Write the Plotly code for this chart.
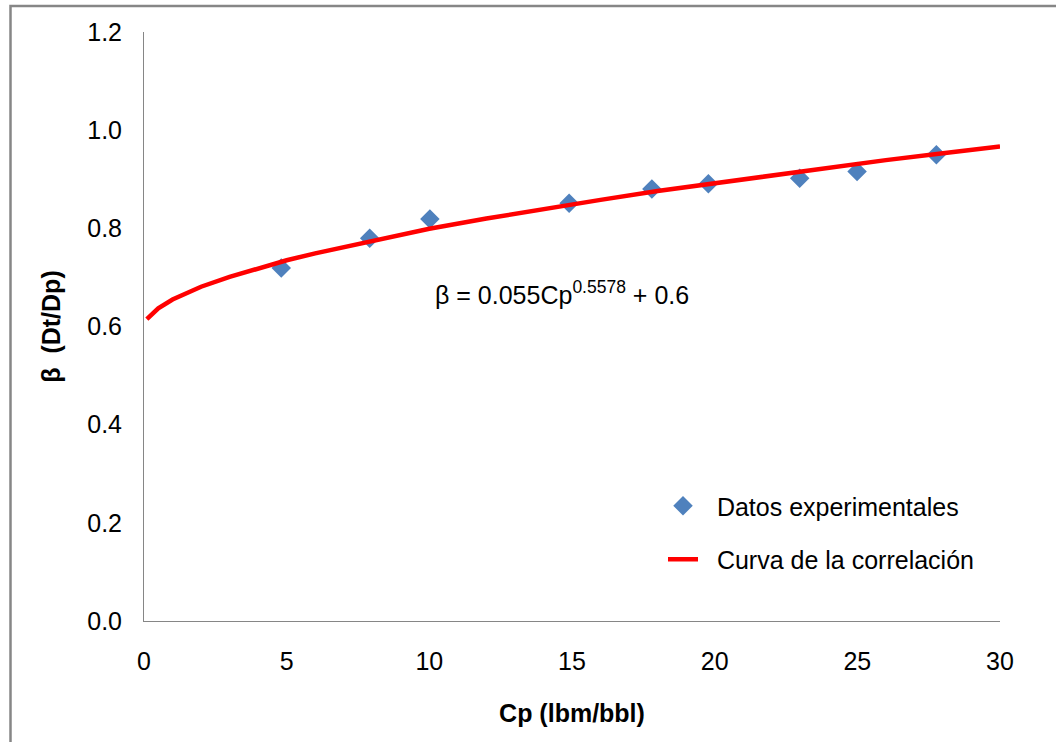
import plotly.graph_objects as go

# ---- data ----
cp_exp = [4.81, 7.91, 10.02, 14.9, 17.8, 19.78, 22.98, 24.99, 27.77]
beta_exp = [0.719, 0.780, 0.819, 0.851, 0.880, 0.891, 0.902, 0.916, 0.950]

cp_curve = [0.1, 0.5, 1, 2, 3, 4, 5, 6, 8, 10, 12, 14, 16, 18, 20, 22, 24, 26, 28, 30]
beta_curve = [0.615, 0.637, 0.655, 0.681, 0.701, 0.719, 0.735, 0.749, 0.775, 0.799,
              0.820, 0.840, 0.858, 0.876, 0.892, 0.908, 0.924, 0.939, 0.953, 0.967]

x_ticks = [0, 5, 10, 15, 20, 25, 30]
y_ticks = [0.0, 0.2, 0.4, 0.6, 0.8, 1.0, 1.2]

W, H = 1056, 742
ML, MR, MT, MB = 144, 56, 32, 121
PW, PH = W - ML - MR, H - MT - MB


def px_x(p):
    return (p - ML) / PW


def px_y(p):
    return (H - MB - p) / PH


FONT = "Liberation Sans, Arial, sans-serif"
FS = 25
AXIS_COLOR = "#868686"

fig = go.Figure()
fig.add_trace(go.Scatter(
    x=cp_exp, y=beta_exp, mode="markers",
    name="\u00a0\u00a0Datos experimentales",
    marker=dict(symbol="diamond", size=15, color="#4F81BD"),
    legendgroup="a",
))
fig.add_trace(go.Scatter(
    x=cp_curve, y=beta_curve, mode="lines",
    name="\u00a0\u00a0Curva de la correlación",
    line=dict(color="#FF0000", width=4.5),
    legendgroup="b",
))

fig.update_layout(
    width=W, height=H,
    margin=dict(l=ML, r=MR, t=MT, b=MB, autoexpand=False),
    paper_bgcolor="white", plot_bgcolor="white",
    font=dict(family=FONT, size=FS, color="black"),
    showlegend=True,
    legend=dict(
        x=px_x(663), y=px_y(483), xanchor="left", yanchor="top",
        bgcolor="rgba(0,0,0,0)", borderwidth=0,
        tracegroupgap=18,
        font=dict(family=FONT, size=FS, color="black"),
    ),
    xaxis=dict(
        range=[0, 30], tickvals=x_ticks, ticktext=[str(v) for v in x_ticks],
        showgrid=False, zeroline=False, showline=True, linecolor=AXIS_COLOR, linewidth=1,
        ticks="", ticklabelstandoff=18,
        tickfont=dict(family=FONT, size=FS, color="black"),
        title=dict(text="<b>Cp (lbm/bbl)</b>", standoff=30,
                   font=dict(family=FONT, size=FS, color="black")),
        automargin=False,
    ),
    yaxis=dict(
        range=[0, 1.2], tickvals=y_ticks, ticktext=[f"{v:.1f}" for v in y_ticks],
        showgrid=False, zeroline=False, showline=True, linecolor=AXIS_COLOR, linewidth=1,
        ticks="", ticklabelstandoff=16,
        tickfont=dict(family=FONT, size=FS, color="black"),
        title=dict(text="<b>β\u00a0\u00a0(Dt/Dp)</b>", standoff=19,
                   font=dict(family=FONT, size=FS, color="black")),
        automargin=False,
    ),
    annotations=[dict(
        x=14.65, y=0.668, xref="x", yref="y",
        text="β = 0.055Cp<sup>0.5578</sup> + 0.6",
        showarrow=False, xanchor="center", yanchor="middle",
        font=dict(family=FONT, size=FS, color="black"),
    )],
    shapes=[dict(
        type="rect", xref="paper", yref="paper",
        x0=px_x(10.5), x1=px_x(1070), y0=px_y(760), y1=px_y(6),
        line=dict(color=AXIS_COLOR, width=2.5), fillcolor="rgba(0,0,0,0)",
        layer="below",
    )],
)

fig.write_html("out.html", config={"displayModeBar": False},
               post_script="document.body.style.margin='0';")
